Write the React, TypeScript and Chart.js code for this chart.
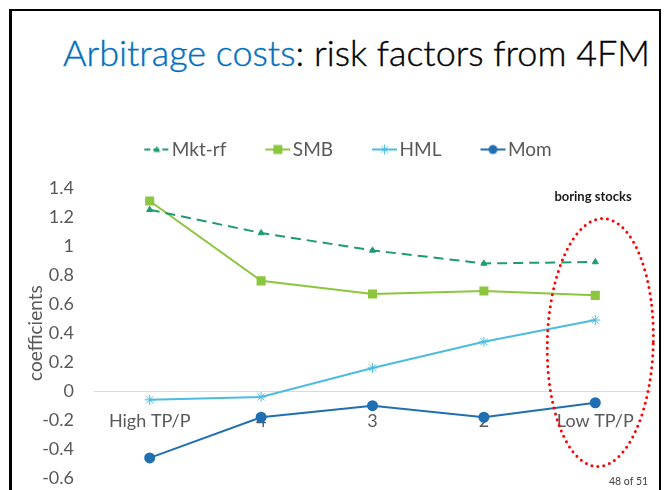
import React, { useEffect, useRef } from "react";
import { Chart, registerables } from "chart.js";

Chart.register(...registerables);

const categories = ["High TP/P", "4", "3", "2", "Low TP/P"];
const mktRf = [1.25, 1.09, 0.97, 0.88, 0.89];
const smb = [1.31, 0.76, 0.67, 0.69, 0.66];
const hml = [-0.06, -0.04, 0.16, 0.34, 0.49];
const mom = [-0.46, -0.18, -0.1, -0.18, -0.08];
const seriesNames = ["Mkt-rf", "SMB", "HML", "Mom"];
const yMin = -0.6;
const yMax = 1.4;
const yStep = 0.2;

const FONT = "Lato, 'Open Sans', sans-serif";
const GREY = "#595959";
const C_MKT = "#1F9B72";
const C_SMB = "#8CC63F";
const C_HML = "#4BBCE0";
const C_MOM = "#1F6FB2";

const EXT = 8;

function makeLegendIcon(color: string, dash: number[], style: string, boxW: number): HTMLCanvasElement {
  const w = boxW + 2 * EXT;
  const h = 14;
  const c = document.createElement("canvas");
  c.width = w;
  c.height = h;
  const ctx = c.getContext("2d")!;
  const x0 = w - 26;
  const x1 = w - 1;
  const cy = h / 2;
  ctx.strokeStyle = color;
  ctx.fillStyle = color;
  ctx.lineWidth = 2;
  ctx.setLineDash(dash);
  ctx.beginPath();
  ctx.moveTo(x0, cy);
  ctx.lineTo(x1, cy);
  ctx.stroke();
  ctx.setLineDash([]);
  const mx = (x0 + x1) / 2;
  if (style === "triangle") {
    ctx.beginPath();
    ctx.moveTo(mx, cy - 3.5);
    ctx.lineTo(mx + 3.5, cy + 2.5);
    ctx.lineTo(mx - 3.5, cy + 2.5);
    ctx.closePath();
    ctx.fill();
  } else if (style === "rect") {
    ctx.fillRect(mx - 4.5, cy - 4.5, 9, 9);
  } else if (style === "star") {
    ctx.lineWidth = 1;
    ctx.beginPath();
    const r = 5;
    ctx.moveTo(mx - r, cy);
    ctx.lineTo(mx + r, cy);
    ctx.moveTo(mx, cy - r);
    ctx.lineTo(mx, cy + r);
    ctx.moveTo(mx - r * 0.7, cy - r * 0.7);
    ctx.lineTo(mx + r * 0.7, cy + r * 0.7);
    ctx.moveTo(mx - r * 0.7, cy + r * 0.7);
    ctx.lineTo(mx + r * 0.7, cy - r * 0.7);
    ctx.stroke();
  } else {
    ctx.beginPath();
    ctx.arc(mx, cy, 4.5, 0, Math.PI * 2);
    ctx.fill();
  }
  return c;
}

const ellipsePlugin = {
  id: "boringEllipse",
  afterDatasetsDraw(chart: any) {
    const { ctx, scales } = chart;
    const xs = scales.x;
    const ys = scales.y;
    const cx = xs.getPixelForValue(categories.length - 1) + 5;
    const top = ys.getPixelForValue(1.19);
    const bottom = ys.getPixelForValue(-0.52);
    const cy = (top + bottom) / 2;
    const ry = (bottom - top) / 2;
    const rx = 53;
    ctx.save();
    ctx.strokeStyle = "#FF0000";
    ctx.lineWidth = 3;
    ctx.lineCap = "round";
    ctx.setLineDash([0, 6]);
    ctx.beginPath();
    ctx.ellipse(cx, cy, rx, ry, 0.025, 0, Math.PI * 2);
    ctx.stroke();
    ctx.restore();
  },
};

export default function App() {
  const ref = useRef<HTMLCanvasElement | null>(null);

  useEffect(() => {
    if (!ref.current) return;
    const boxW = 50;
    const icons = [
      makeLegendIcon(C_MKT, [6, 3], "triangle", boxW),
      makeLegendIcon(C_SMB, [], "rect", boxW),
      makeLegendIcon(C_HML, [], "star", boxW),
      makeLegendIcon(C_MOM, [], "circle", boxW),
    ];
    const chart = new Chart(ref.current, {
      type: "line",
      data: {
        labels: categories,
        datasets: [
          {
            label: seriesNames[0],
            data: mktRf,
            borderColor: C_MKT,
            backgroundColor: C_MKT,
            borderWidth: 2,
            borderDash: [10, 6],
            pointStyle: "triangle",
            pointRadius: 3.5,
            pointBorderWidth: 1,
          },
          {
            label: seriesNames[1],
            data: smb,
            borderColor: C_SMB,
            backgroundColor: C_SMB,
            borderWidth: 2,
            pointStyle: "rect",
            pointRadius: 5,
          },
          {
            label: seriesNames[2],
            data: hml,
            borderColor: C_HML,
            backgroundColor: C_HML,
            borderWidth: 2,
            pointStyle: "star",
            pointRadius: 5,
            pointBorderWidth: 1,
          },
          {
            label: seriesNames[3],
            data: mom,
            borderColor: C_MOM,
            backgroundColor: C_MOM,
            borderWidth: 2,
            pointStyle: "circle",
            pointRadius: 4.5,
          },
        ],
      },
      options: {
        animation: false,
        responsive: true,
        maintainAspectRatio: false,
        layout: { padding: { top: 8, right: 6, bottom: 4, left: 0 } },
        plugins: {
          tooltip: { enabled: false },
          legend: {
            position: "top",
            labels: {
              usePointStyle: true,
              pointStyleWidth: boxW,
              padding: 7,
              color: GREY,
              font: { family: FONT, size: 19 },
              generateLabels: (ch: any) =>
                ch.data.datasets.map((ds: any, i: number) => ({
                  text: ds.label,
                  fontColor: GREY,
                  pointStyle: icons[i],
                  datasetIndex: i,
                  hidden: false,
                  lineWidth: 0,
                  strokeStyle: "transparent",
                  fillStyle: "transparent",
                })),
            },
          },
        },
        scales: {
          x: {
            type: "category",
            position: { y: 0 } as any,
            offset: true,
            grid: { display: false, drawTicks: false },
            border: { display: true, color: "#D9D9D9", width: 1 },
            ticks: {
              color: GREY,
              font: { family: FONT, size: 18 },
              padding: 19,
              maxRotation: 0,
              autoSkip: false,
            },
            afterFit: (s: any) => {
              s.height = 0;
            },
          },
          spacer: {
            type: "category",
            position: "top",
            display: true,
            grid: { display: false, drawTicks: false },
            border: { display: false },
            ticks: { display: false },
            afterFit: (s: any) => {
              s.height = 19;
            },
          },
          y: {
            min: yMin,
            max: yMax,
            grid: { display: false, drawTicks: false },
            border: { display: false },
            ticks: {
              stepSize: yStep,
              color: GREY,
              padding: 20,
              font: { family: FONT, size: 18 },
              callback: (v: any) => String(Number(Number(v).toFixed(1))),
            },
            title: {
              display: true,
              text: "coefficients",
              color: GREY,
              font: { family: FONT, size: 19 },
              padding: { top: 12, bottom: 0 },
            },
            afterFit: (s: any) => {
              s.width = 82;
            },
          },
        },
      },
      plugins: [ellipsePlugin],
    });
    return () => chart.destroy();
  }, []);

  return (
    <div style={{ position: "fixed", left: 0, top: 0, width: 665, height: 490, background: "#fff", overflow: "hidden" }}>
      <div
        style={{
          position: "absolute",
          left: 9,
          top: 9,
          width: 647,
          height: 500,
          borderLeft: "3px solid #000",
          borderTop: "2px solid #000",
          borderRight: "2px solid #000",
        }}
      />
      <div
        style={{
          position: "absolute",
          left: 63,
          top: 32,
          fontFamily: FONT,
          fontSize: 36,
          fontWeight: 300,
          lineHeight: "40px",
          whiteSpace: "nowrap",
          color: "#000",
          WebkitTextStroke: "0.4px currentColor",
        }}
      >
        <span style={{ color: "#0070C0" }}>Arbitrage costs</span>: risk factors from 4FM
      </div>
      <div style={{ position: "absolute", left: 12, top: 125, width: 646, height: 384 }}>
        <canvas ref={ref} />
      </div>
      <div
        style={{
          position: "absolute",
          left: 552,
          top: 188,
          width: 82,
          textAlign: "center",
          fontFamily: FONT,
          fontWeight: 700,
          fontSize: 13,
          color: "#1a1a1a",
          whiteSpace: "nowrap",
        }}
      >
        boring stocks
      </div>
      <div
        style={{
          position: "absolute",
          left: 609,
          top: 475,
          fontFamily: FONT,
          fontSize: 10.5,
          color: "#404040",
          whiteSpace: "nowrap",
        }}
      >
        48 of 51
      </div>
    </div>
  );
}
